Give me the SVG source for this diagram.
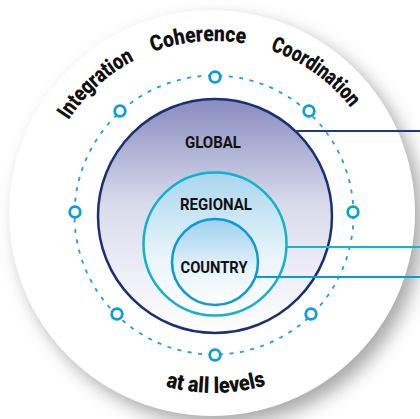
<svg xmlns="http://www.w3.org/2000/svg" width="420" height="419" viewBox="0 0 420 419">
  <defs>
    <filter id="shadow" x="-20%" y="-20%" width="140%" height="140%">
      <feGaussianBlur stdDeviation="9"/>
    </filter>
    <linearGradient id="gGlobal" x1="0" y1="0" x2="0" y2="1">
      <stop offset="0" stop-color="#878bbf"/>
      <stop offset="0.45" stop-color="#d9dbec"/>
      <stop offset="1" stop-color="#ffffff"/>
    </linearGradient>
    <linearGradient id="gRegional" x1="0" y1="0" x2="0" y2="1">
      <stop offset="0" stop-color="#a9d6ee"/>
      <stop offset="0.6" stop-color="#eaf5fb"/>
      <stop offset="1" stop-color="#ffffff"/>
    </linearGradient>
    <linearGradient id="gCountry" x1="0" y1="0" x2="0" y2="1">
      <stop offset="0" stop-color="#9fd0ef"/>
      <stop offset="0.6" stop-color="#e8f4fb"/>
      <stop offset="1" stop-color="#ffffff"/>
    </linearGradient>
    <path id="arcTop" d="M 41,214 A 173,173 0 0 1 387,214"/>
    <path id="arcBottom" d="M 33,212 A 181,181 0 0 0 395,212"/>
    <style>
      .word { font-family: Roboto, "Liberation Sans", sans-serif; font-weight: 900; font-size: 22px; fill: #111; }
      .level { font-family: Roboto, "Liberation Sans", sans-serif; font-weight: 700; font-size: 17px; fill: #111; text-anchor: middle; }
      .dot { fill: #ffffff; stroke: #0a9fdc; stroke-width: 2.8; }
      .conn { fill: none; stroke-width: 2.2; }
    </style>
  </defs>

  <rect width="420" height="419" fill="#ffffff"/>

  <g id="background">
    <circle cx="220" cy="222" r="203" fill="#8c8c8c" opacity="0.75" filter="url(#shadow)"/>
    <circle cx="212" cy="213" r="203" fill="#ffffff"/>
  </g>

  <g id="ring">
    <circle cx="214" cy="215" r="139.5" fill="none" stroke="#1aa0dc" stroke-width="1.8" stroke-dasharray="4 6.5"/>
    <circle class="dot" cx="215" cy="77" r="5.3"/>
    <circle class="dot" cx="120" cy="111" r="5.3"/>
    <circle class="dot" cx="309" cy="111" r="5.3"/>
    <circle class="dot" cx="75" cy="212" r="5.3"/>
    <circle class="dot" cx="353" cy="212" r="5.3"/>
    <circle class="dot" cx="117" cy="314" r="5.3"/>
    <circle class="dot" cx="311" cy="314" r="5.3"/>
    <circle class="dot" cx="215" cy="355" r="5.3"/>
  </g>

  <g id="labels-outer">
    <text class="word"><textPath href="#arcTop" startOffset="144" text-anchor="middle" textLength="90" lengthAdjust="spacingAndGlyphs">Integration</textPath></text>
    <text class="word"><textPath href="#arcTop" startOffset="256" text-anchor="middle" textLength="94" lengthAdjust="spacingAndGlyphs">Coherence</textPath></text>
    <text class="word"><textPath href="#arcTop" startOffset="379" text-anchor="middle" textLength="100" lengthAdjust="spacingAndGlyphs">Coordination</textPath></text>
    <text class="word"><textPath href="#arcBottom" startOffset="286" text-anchor="middle" textLength="102" lengthAdjust="spacingAndGlyphs">at all levels</textPath></text>
  </g>

  <g id="global">
    <circle cx="215" cy="216" r="117" fill="url(#gGlobal)" stroke="#1b2f74" stroke-width="2.5"/>
    <text class="level" x="213" y="148" textLength="56" lengthAdjust="spacingAndGlyphs">GLOBAL</text>
  </g>

  <g id="regional">
    <circle cx="215" cy="244" r="71.5" fill="url(#gRegional)" stroke="#12b2cc" stroke-width="2.5"/>
    <text class="level" x="216" y="210" textLength="72" lengthAdjust="spacingAndGlyphs">REGIONAL</text>
  </g>

  <g id="country">
    <circle cx="215" cy="262" r="43" fill="url(#gCountry)" stroke="#0a9ad6" stroke-width="2.5"/>
    <text class="level" x="214" y="273" textLength="67" lengthAdjust="spacingAndGlyphs">COUNTRY</text>
  </g>

  <g id="connectors">
    <line class="conn" x1="295" y1="131" x2="420" y2="131" stroke="#1e3a82"/>
    <line class="conn" x1="286" y1="247" x2="420" y2="247" stroke="#18b3cc"/>
    <line class="conn" x1="256" y1="277" x2="420" y2="277" stroke="#0a9ad6"/>
  </g>
</svg>
